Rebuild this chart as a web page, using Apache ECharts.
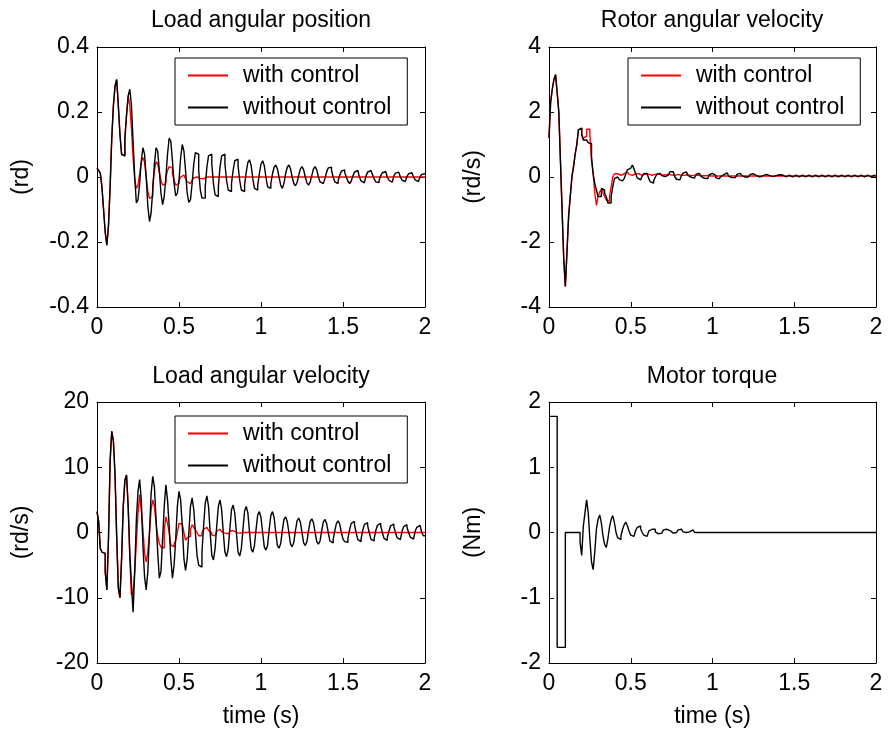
<!DOCTYPE html>
<html><head><meta charset="utf-8">
<script src="https://cdn.jsdelivr.net/npm/echarts@6/dist/echarts.min.js"></script>
<style>html,body{margin:0;padding:0;background:#fff}#c{width:888px;height:731px}</style>
</head><body><div id="c"></div>
<script>
// ---------------- data ----------------
const seriesNames = ['with control', 'without control'];
const titles = ['Load angular position', 'Rotor angular velocity', 'Load angular velocity', 'Motor torque'];
const yNames = ['(rd)', '(rd/s)', '(rd/s)', '(Nm)'];
const xName = 'time (s)';
const xRange = [0, 2, 0.5];
const yRanges = [[-0.4, 0.4, 0.2], [-4, 4, 2], [-20, 20, 10], [-2, 2, 1]];
const dt = 0.01; // sample step of the recorded signals (s): 201 samples, t = 0 ... 2

// Load angular position (rd) — one row per 0.1 s
const posWith = [
  0.027, 0.02, 0.012, -0.03, -0.10, -0.17, -0.21, -0.15, -0.03, 0.12,
  0.22, 0.28, 0.30, 0.22, 0.13, 0.07, 0.065, 0.12, 0.19, 0.25,
  0.22, 0.15, 0.06, -0.01, -0.035, -0.025, 0.01, 0.045, 0.06, 0.045,
  0.0, -0.045, -0.066, -0.06, -0.025, 0.02, 0.047, 0.04, 0.015, -0.01,
  -0.025, -0.02, 0.0, 0.02, 0.032, 0.028, 0.01, -0.01, -0.025, -0.02,
  -0.01, 0.0, 0.006, 0.004, -0.005, -0.015, -0.02, -0.018, -0.01, -0.003,
  0.0, -0.002, -0.005, -0.008, -0.005, 0, 0, 0, 0, 0,
  0, 0, 0, 0, 0, 0, 0, 0, 0, 0,
  0, 0, 0, 0, 0, 0, 0, 0, 0, 0,
  0, 0, 0, 0, 0, 0, 0, 0, 0, 0,
  0, 0, 0, 0, 0, 0, 0, 0, 0, 0,
  0, 0, 0, 0, 0, 0, 0, 0, 0, 0,
  0, 0, 0, 0, 0, 0, 0, 0, 0, 0,
  0, 0, 0, 0, 0, 0, 0, 0, 0, 0,
  0, 0, 0, 0, 0, 0, 0, 0, 0, 0,
  0, 0, 0, 0, 0, 0, 0, 0, 0, 0,
  0, 0, 0, 0, 0, 0, 0, 0, 0, 0,
  0, 0, 0, 0, 0, 0, 0, 0, 0, 0,
  0, 0, 0, 0, 0, 0, 0, 0, 0, 0,
  0, 0, 0, 0, 0, 0, 0, 0, 0, 0,
  0];
const posWithout = [
  0.027, 0.02, 0.012, -0.03, -0.10, -0.17, -0.21, -0.15, -0.03, 0.12,
  0.22, 0.28, 0.30, 0.22, 0.13, 0.07, 0.065, 0.12, 0.19, 0.25,
  0.27, 0.22, 0.11, 0.0, -0.08, -0.07, -0.02, 0.05, 0.09, 0.07,
  0.0, -0.09, -0.137, -0.11, -0.04, 0.04, 0.09, 0.08, 0.02, -0.05,
  -0.085, -0.06, 0.0, 0.07, 0.12, 0.11, 0.05, -0.02, -0.058, -0.05,
  -0.01, 0.06, 0.10, 0.08, 0.02, -0.05, -0.078, -0.07, -0.02, 0.04,
  0.075, 0.07, 0.02, -0.04, -0.065, -0.065, -0.03, 0.03, 0.065, 0.07,
  0.04, -0.02, -0.055, -0.06, -0.03, 0.03, 0.065, 0.07, 0.04, -0.01,
  -0.04, -0.045, -0.02, 0.02, 0.05, 0.055, 0.035, -0.01, -0.04, -0.045,
  -0.025, 0.015, 0.045, 0.053, 0.035, -0.005, -0.035, -0.04, -0.025, 0.01,
  0.04, 0.05, 0.035, 0.0, -0.03, -0.035, -0.02, 0.01, 0.03, 0.037,
  0.025, 0.0, -0.025, -0.035, -0.02, 0.01, 0.03, 0.037, 0.025, 0.0,
  -0.02, -0.027, -0.017, 0.005, 0.025, 0.032, 0.022, 0.0, -0.018, -0.025,
  -0.015, 0.005, 0.025, 0.032, 0.022, 0.0, -0.015, -0.02, -0.02, -0.005,
  0.015, 0.028, 0.03, 0.02, 0.0, -0.015, -0.02, -0.012, 0.005, 0.018,
  0.022, 0.015, 0.0, -0.013, -0.02, -0.013, 0.003, 0.015, 0.02, 0.015,
  0.0, -0.012, -0.018, -0.012, 0.003, 0.015, 0.02, 0.02, 0.008, -0.006,
  -0.015, -0.017, -0.01, 0.004, 0.013, 0.017, 0.012, 0.0, -0.01, -0.016,
  -0.01, 0.003, 0.012, 0.015, 0.01, 0.0, -0.01, -0.014, -0.009, 0.002,
  0.01, 0.013, 0.009, 0.0, -0.009, -0.014, -0.009, 0.001, 0.008, 0.01,
  0.008];

// Rotor angular velocity (rd/s)
const rotWith = [
  1.2, 2.3, 2.7, 3.0, 3.15, 2.6, 2.0, 0.5, -1.0, -2.5,
  -3.37, -2.3, -1.2, -0.6, 0.0, 0.32, 0.7, 1.0, 1.45, 1.5,
  1.3, 1.2, 1.25, 1.47, 1.47, 1.3, 0.5, 0.1, -0.5, -0.87,
  -0.6, -0.45, -0.4, -0.5, -0.6, -0.7, -0.75, -0.6, -0.3, 0.0,
  0.1, 0.1, 0.08, 0.05, 0.06, 0.1, 0.13, 0.15, 0.12, 0.08,
  0.05, 0.06, 0.1, 0.12, 0.1, 0.07, 0.05, 0.07, 0.1, 0.11,
  0.09, 0.06, 0.05, 0.06, 0.08, 0.1, 0.1, 0.08, 0.06, 0.05,
  0.06, 0.08, 0.09, 0.08, 0.06, 0.05, 0.05, 0.07, 0.08, 0.07,
  0.05, 0.04, 0.05, 0.07, 0.07, 0.06, 0.04, 0.04, 0.05, 0.06,
  0.06, 0.05, 0.04, 0.03, 0.04, 0.05, 0.05, 0.04, 0.03, 0.03,
  0.03, 0.03, 0.03, 0.03, 0.03, 0.03, 0.03, 0.03, 0.03, 0.03,
  0.03, 0.03, 0.03, 0.03, 0.03, 0.03, 0.03, 0.03, 0.03, 0.03,
  0.03, 0.03, 0.03, 0.03, 0.03, 0.03, 0.03, 0.03, 0.03, 0.03,
  0.03, 0.03, 0.03, 0.03, 0.03, 0.03, 0.03, 0.03, 0.03, 0.03,
  0.03, 0.03, 0.03, 0.03, 0.03, 0.03, 0.03, 0.03, 0.03, 0.03,
  0.03, 0.03, 0.03, 0.03, 0.03, 0.03, 0.03, 0.03, 0.03, 0.03,
  0.03, 0.03, 0.03, 0.03, 0.03, 0.03, 0.03, 0.03, 0.03, 0.03,
  0.03, 0.03, 0.03, 0.03, 0.03, 0.03, 0.03, 0.03, 0.03, 0.03,
  0.03, 0.03, 0.03, 0.03, 0.03, 0.03, 0.03, 0.03, 0.03, 0.03,
  0.03, 0.03, 0.03, 0.03, 0.03, 0.03, 0.03, 0.03, 0.03, 0.03,
  0.03];
const rotWithout = [
  1.2, 2.3, 2.7, 3.0, 3.15, 2.6, 2.0, 0.5, -1.0, -2.5,
  -3.37, -2.3, -1.2, -0.6, 0.0, 0.32, 0.7, 1.0, 1.45, 1.5,
  1.3, 1.14, 1.14, 1.14, 1.05, 1.03, 0.63, 0.1, -0.2, -0.4,
  -0.6, -0.6, -0.35, -0.4, -0.5, -0.6, -0.8, -0.8, -0.6, -0.3,
  -0.05, 0.0, -0.02, -0.08, -0.12, -0.14, -0.05, 0.1, 0.22, 0.27,
  0.33, 0.37, 0.25, 0.1, -0.03, -0.09, -0.05, 0.03, 0.1, 0.11,
  0.06, -0.05, -0.15, -0.19, -0.12, 0.0, 0.08, 0.11, 0.08, 0.04,
  0.01, 0.01, 0.06, 0.12, 0.16, 0.16, 0.1, 0.0, -0.07, -0.09,
  -0.05, 0.04, 0.12, 0.16, 0.12, 0.05, -0.01, -0.04, -0.03, 0.03,
  0.09, 0.11, 0.08, 0.02, -0.04, -0.07, -0.05, 0.01, 0.07, 0.11,
  0.1, 0.05, -0.02, -0.06, -0.05, 0.01, 0.07, 0.12, 0.13, 0.08,
  0.02, -0.02, -0.04, -0.02, 0.03, 0.08, 0.11, 0.09, 0.04, 0.0,
  -0.02, 0.0, 0.04, 0.08, 0.1, 0.08, 0.04, 0.01, 0.0, 0.01,
  0.04, 0.07, 0.08, 0.07, 0.04, 0.02, 0.01, 0.02, 0.04, 0.06,
  0.07, 0.05, 0.06, 0.06, 0.0, 0.0, 0.06, 0.06, 0.0, 0.0,
  0.06, 0.06, 0.0, 0.0, 0.06, 0.06, 0.0, 0.0, 0.06, 0.06,
  0.0, 0.0, 0.06, 0.06, 0.0, 0.0, 0.06, 0.06, 0.0, 0.0,
  0.06, 0.06, 0.0, 0.0, 0.06, 0.06, 0.0, 0.0, 0.06, 0.06,
  0.0, 0.0, 0.06, 0.06, 0.0, 0.0, 0.06, 0.06, 0.0, 0.0,
  0.06, 0.06, 0.0, 0.0, 0.06, 0.06, 0.0, 0.0, 0.06, 0.06,
  0.03];

// Load angular velocity (rd/s)
const velWith = [
  3.2, 1.7, -2.4, -3.0, -3.2, -6.0, -8.8, -1, 11, 15.5,
  14, 8.8, -0.6, -8.5, -10, -4, 4, 8, 8.8, 4,
  -4, -9.6, -9, -6, -1.5, 3, 5.8, 3.5, 0.5, -3.2,
  -4.5, -3, 0, 3.5, 5, 4, 1.5, -0.5, -1.7, -2.2,
  -2.4, 0.5, 2.4, 1.4, 0, -1.9, -2.2, -1.8, -1.2, 0,
  1.4, 1.3, 1.2, 0, -1.2, -0.8, -0.6, 0.5, 1.2, 0.8,
  0.4, 0, -0.5, -0.5, 0, 0.5, 0.8, 0.6, 0.3, 0,
  -0.4, -0.5, -0.2, 0.2, 0.5, 0.4, 0.1, -0.1, -0.3, -0.2,
  0, 0.2, 0.3, 0.2, 0, -0.1, -0.1, 0, 0, 0,
  0, 0, 0, 0, 0, 0, 0, 0, 0, 0,
  0, 0, 0, 0, 0, 0, 0, 0, 0, 0,
  0, 0, 0, 0, 0, 0, 0, 0, 0, 0,
  0, 0, 0, 0, 0, 0, 0, 0, 0, 0,
  0, 0, 0, 0, 0, 0, 0, 0, 0, 0,
  0, 0, 0, 0, 0, 0, 0, 0, 0, 0,
  0, 0, 0, 0, 0, 0, 0, 0, 0, 0,
  0, 0, 0, 0, 0, 0, 0, 0, 0, 0,
  0, 0, 0, 0, 0, 0, 0, 0, 0, 0,
  0, 0, 0, 0, 0, 0, 0, 0, 0, 0,
  0, 0, 0, 0, 0, 0, 0, 0, 0, 0,
  0];
const velWithout = [
  3.2, 1.7, -2.4, -3.0, -3.2, -6.0, -8.8, -1, 11, 15.5,
  14, 8.8, -0.6, -8.5, -10, -4, 4, 8, 8.8, 4,
  -3, -8, -12.2, -6, 2, 6.3, 8.1, 5, -2, -6.8,
  -8.8, -6, 0, 6, 8.6, 7, 2, -3, -7, -6,
  -1, 4, 7.3, 5, 1, -4, -7, -5, -1, 4,
  6.3, 5, 1, -4, -5.8, -4, 0, 4, 5.3, 3.5,
  0, -3.5, -5, -5.3, -3, 1, 4.5, 5.6, 4, 0,
  -3.5, -4.2, -2.5, 1, 4, 5.0, 3.5, 0, -3, -3.7,
  -2.5, 0.5, 3.5, 4.2, 3, 0, -3, -3.6, -2.5, 0.5,
  3.3, 4.0, 3, 0, -2.5, -3.0, -2, 0.5, 2.7, 3.2,
  2.3, 0, -2.2, -2.7, -2, 0.5, 2.6, 3.2, 2.3, 0,
  -2, -2.4, -1.7, 0.3, 2, 2.4, 1.7, 0, -1.8, -2.2,
  -1.5, 0.3, 1.8, 2.2, 1.6, 0, -1.6, -2.0, -1.4, 0.3,
  1.7, 2.1, 1.5, 0, -1.4, -1.8, -1.3, 0.3, 1.6, 2.0,
  1.4, 0, -1.3, -1.6, -1.1, 0.3, 1.4, 1.8, 1.3, 0,
  -1.0, -1.4, -1.5, -0.9, 0.4, 1.4, 1.7, 1.2, 0, -1.1,
  -1.4, -1.0, 0.3, 1.2, 1.5, 1.1, 0, -1.0, -1.3, -0.9,
  0.3, 1.1, 1.4, 1.0, 0, -0.9, -1.2, -0.8, 0.2, 1.0,
  1.3, 0.9, 0, -0.8, -1.1, -0.8, 0.2, 0.9, 1.2, 0.8,
  0, -0.7, -1.0, -0.7, 0.2, 0.8, 1.1, 0.8, 0, -0.5,
  -0.6];

// Motor torque (Nm): pulse phase, then oscillation sampled every 0.01 s from t = 0.19
const torquePulseT = [0, 0.05, 0.10];
const torquePulseV = [1.78, -1.76, 0];
const torqueOscStart = 0.19;
const torqueOscDt = 0.01;
const torqueOscV = [
  -0.15, -0.35, 0.1, 0.3, 0.5, 0.3, -0.1, -0.45, -0.57, -0.3,
  0.05, 0.2, 0.27, 0.15, -0.05, -0.18, -0.23, -0.1, 0.08, 0.2,
  0.26, 0.15, 0.0, -0.08, -0.11, -0.05, 0.05, 0.12, 0.16, 0.1,
  0.02, -0.04, -0.06, -0.03, 0.03, 0.08, 0.1, 0.06, 0.0, -0.04,
  -0.06, -0.03, 0.02, 0.05, 0.07, 0.05, 0.01, -0.02, -0.03, -0.01,
  0.02, 0.04, 0.05, 0.06, 0.03, 0.0, -0.01, -0.02, 0.0, 0.02,
  0.04, 0.05, 0.03, 0.01, 0.0, 0.0, 0.01, 0.03, 0.04, 0.05,
  0.0];
const torqueEnd = [2.0, 0];

// ---------------- chart ----------------
const FONT = "'Liberation Sans', Arial, sans-serif";
const FS = 23;
const RED = '#ff0000', BLACK = '#000000';
const grids = [
  { left: 97, top: 47, width: 328, height: 260 },
  { left: 549, top: 47, width: 327, height: 260 },
  { left: 97, top: 402, width: 328, height: 261 },
  { left: 549, top: 402, width: 327, height: 261 }
];
const sampled = vals => vals.map((v, i) => [+(i * dt).toFixed(2), v]);
const torqueData = torquePulseT.map((t, i) => [t, torquePulseV[i]])
  .concat(torqueOscV.map((v, i) => [+(torqueOscStart + i * torqueOscDt).toFixed(2), v]))
  .concat([torqueEnd]);

const xAxes = [], yAxes = [];
grids.forEach((g, i) => {
  const common = {
    gridIndex: i, type: 'value', splitLine: { show: false },
    axisLine: { show: true, onZero: false, lineStyle: { color: '#000', width: 1 } },
    axisTick: { show: true, inside: true, length: 5, lineStyle: { color: '#000' } }
  };
  const yr = yRanges[i];
  xAxes.push(Object.assign({}, common, {
    position: 'bottom', min: xRange[0], max: xRange[1], interval: xRange[2],
    axisLabel: { margin: 9, fontSize: FS, color: '#000', fontFamily: FONT },
    name: i >= 2 ? xName : '', nameLocation: 'middle', nameGap: 42,
    nameTextStyle: { fontSize: FS, color: '#000', fontFamily: FONT }
  }));
  xAxes.push(Object.assign({}, common, {
    position: 'top', min: xRange[0], max: xRange[1], interval: xRange[2],
    axisLabel: { show: false }
  }));
  yAxes.push(Object.assign({}, common, {
    position: 'left', min: yr[0], max: yr[1], interval: yr[2],
    axisLabel: { margin: 8, fontSize: FS, color: '#000', fontFamily: FONT },
    name: yNames[i], nameLocation: 'middle', nameRotate: 90, nameGap: 64,
    nameTextStyle: { fontSize: FS, color: '#000', fontFamily: FONT }
  }));
  yAxes.push(Object.assign({}, common, {
    position: 'right', min: yr[0], max: yr[1], interval: yr[2],
    axisLabel: { show: false }
  }));
});

function line(name, data, color, gi) {
  return {
    name, type: 'line', step: 'end', data, xAxisIndex: 2 * gi, yAxisIndex: 2 * gi,
    symbol: 'none', showSymbol: false, animation: false,
    lineStyle: { color, width: 1.4 }, itemStyle: { color }
  };
}

const series = [
  line(seriesNames[0], sampled(posWith), RED, 0),
  line(seriesNames[1], sampled(posWithout), BLACK, 0),
  line(seriesNames[0], sampled(rotWith), RED, 1),
  line(seriesNames[1], sampled(rotWithout), BLACK, 1),
  line(seriesNames[0], sampled(velWith), RED, 2),
  line(seriesNames[1], sampled(velWithout), BLACK, 2),
  line('Motor torque', torqueData, BLACK, 3)
];

function legendAt(left, top) {
  return {
    left, top, orient: 'vertical', data: seriesNames,
    backgroundColor: '#fff', borderColor: '#000', borderWidth: 1,
    padding: [6, 16, 6, 13], itemGap: 9, itemWidth: 40, itemHeight: 2, icon: 'rect',
    selectedMode: false,
    textStyle: { fontSize: FS, lineHeight: 23, color: '#000', fontFamily: FONT, padding: [0, 0, 0, 10] }
  };
}

const titleOf = (text, cx, top) => ({
  text, left: cx, top, textAlign: 'center', padding: 0,
  textStyle: { fontSize: FS, fontWeight: 'normal', color: '#000', fontFamily: FONT }
});

const option = {
  backgroundColor: '#fff',
  animation: false,
  title: [
    titleOf(titles[0], 261, 9), titleOf(titles[1], 712, 9),
    titleOf(titles[2], 261, 365), titleOf(titles[3], 712, 365)
  ],
  legend: [legendAt(175, 58), legendAt(628, 58), legendAt(175, 416)],
  grid: grids.map(g => Object.assign({ containLabel: false, outerBoundsMode: 'none' }, g)),
  xAxis: xAxes,
  yAxis: yAxes,
  series
};
const chart = echarts.init(document.getElementById('c'), null, { renderer: 'canvas' });
chart.setOption(option);
</script>
</body></html>
